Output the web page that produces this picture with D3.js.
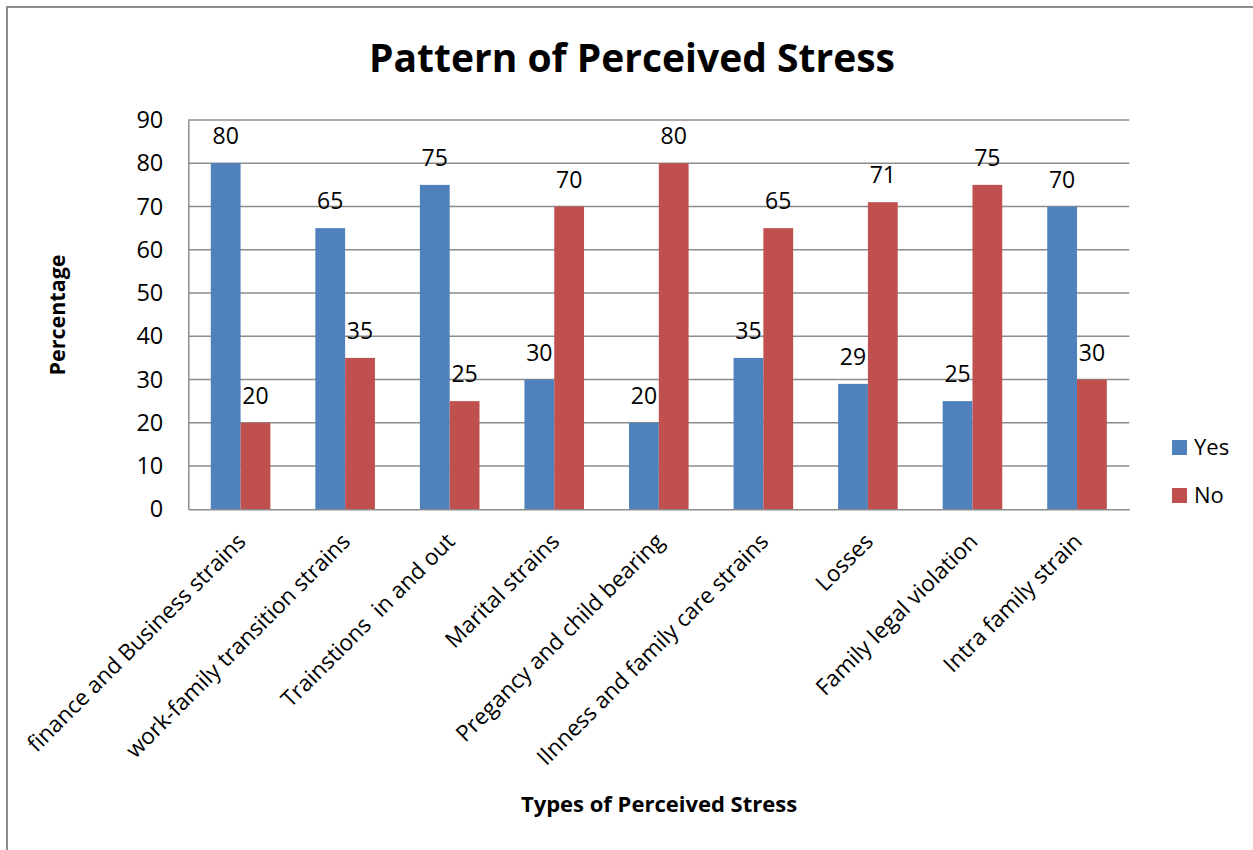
<!DOCTYPE html>
<html>
<head>
<meta charset="utf-8">
<script src="https://cdn.jsdelivr.net/npm/d3@7"></script>
<style>
  html, body { margin: 0; padding: 0; background: #fff; }
  svg { display: block; }
  text { font-family: "Open Sans", Lato, sans-serif; fill: #000; }
</style>
</head>
<body>
<svg id="chart" width="1253" height="850"></svg>
<script>
const categories = [
  "finance and Business strains",
  "work-family transition strains",
  "Trainstions  in and out",
  "Marital strains",
  "Pregancy and child bearing",
  "Ilnness and family care strains",
  "Losses",
  "Family legal violation",
  "Intra family strain"
];
const seriesNames = ["Yes", "No"];
const yesValues = [80, 65, 75, 30, 20, 35, 29, 25, 70];
const noValues  = [20, 35, 25, 70, 80, 65, 71, 75, 30];
const yTicks = [0, 10, 20, 30, 40, 50, 60, 70, 80, 90];
const colors = ["#4F81BD", "#C0504D"];

const svg = d3.select("#chart");
const m = { left: 188.3, right: 1129.3, top: 120, bottom: 509.3 };
const FONT = '"Open Sans", Lato, sans-serif';

// outer frame
svg.append("rect").attr("x", 7).attr("y", 7).attr("width", 1300).attr("height", 900)
  .attr("fill", "none").attr("stroke", "#8c8c8c").attr("stroke-width", 2);

const x0 = d3.scaleBand().domain(categories).range([m.left, m.right])
  .paddingInner(0.43).paddingOuter(0.215);
const x1 = d3.scaleBand().domain(seriesNames).range([0, x0.bandwidth()]);
const y = d3.scaleLinear().domain([0, 90]).range([m.bottom, m.top]);

// gridlines
svg.append("g").selectAll("line").data(yTicks.filter(d => d > 0)).join("line")
  .attr("x1", m.left).attr("x2", m.right)
  .attr("y1", d => y(d)).attr("y2", d => y(d))
  .attr("stroke", "#8c8c8c").attr("stroke-width", 1.5);

// y axis
const yAxis = svg.append("g").attr("transform", `translate(${m.left},0)`)
  .call(d3.axisLeft(y).tickValues(yTicks).tickSize(0).tickPadding(25));
yAxis.select(".domain").attr("stroke", "#8c8c8c").attr("stroke-width", 1.5);
yAxis.selectAll("text").style("font-size", "23.5px").style("font-family", FONT).attr("fill", "#000");

// bars
const data = categories.map((c, i) => ({ c, vals: [yesValues[i], noValues[i]] }));
const groups = svg.append("g").selectAll("g").data(data).join("g")
  .attr("transform", d => `translate(${x0(d.c)},0)`);
groups.selectAll("rect").data(d => d.vals.map((v, j) => ({ k: seriesNames[j], v, j }))).join("rect")
  .attr("x", d => x1(d.k)).attr("width", x1.bandwidth())
  .attr("y", d => y(d.v)).attr("height", d => y(0) - y(d.v))
  .attr("fill", d => colors[d.j]);
groups.selectAll("text").data(d => d.vals.map((v, j) => ({ k: seriesNames[j], v, j }))).join("text")
  .attr("x", d => x1(d.k) + x1.bandwidth() / 2).attr("y", d => y(d.v) - 19)
  .attr("text-anchor", "middle").style("font-size", "23px").text(d => d.v);

// x axis
const xAxis = svg.append("g").attr("transform", `translate(0,${m.bottom})`)
  .call(d3.axisBottom(x0).tickSize(0).tickFormat(""));
xAxis.select(".domain").attr("stroke", "#8c8c8c").attr("stroke-width", 1.5);

// category labels
svg.append("g").selectAll("text").data(categories).join("text")
  .attr("transform", d => `translate(${x0(d) + x0.bandwidth() / 2 + 1},${m.bottom + 28}) rotate(-45)`)
  .attr("text-anchor", "end").attr("dy", "0.35em")
  .style("font-size", "22.5px").style("white-space", "pre")
  .text(d => d);

// title
svg.append("text").attr("x", 632).attr("y", 72).attr("text-anchor", "middle")
  .style("font-size", "39px").style("font-weight", "bold").text("Pattern of Perceived Stress");

// axis titles
svg.append("text").attr("transform", "translate(65,315) rotate(-90)").attr("text-anchor", "middle")
  .style("font-size", "21.5px").style("font-weight", "bold").text("Percentage");
svg.append("text").attr("x", 659).attr("y", 812).attr("text-anchor", "middle")
  .style("font-size", "22px").style("font-weight", "bold").text("Types of Perceived Stress");

// legend
const leg = svg.append("g").selectAll("g").data(seriesNames).join("g")
  .attr("transform", (d, i) => `translate(1172,${440 + i * 48})`);
leg.append("rect").attr("width", 15).attr("height", 15).attr("fill", (d, i) => colors[i]);
leg.append("text").attr("x", 22).attr("y", 7.5).attr("dy", "0.35em")
  .style("font-size", "22px").text(d => d);
</script>
</body>
</html>
